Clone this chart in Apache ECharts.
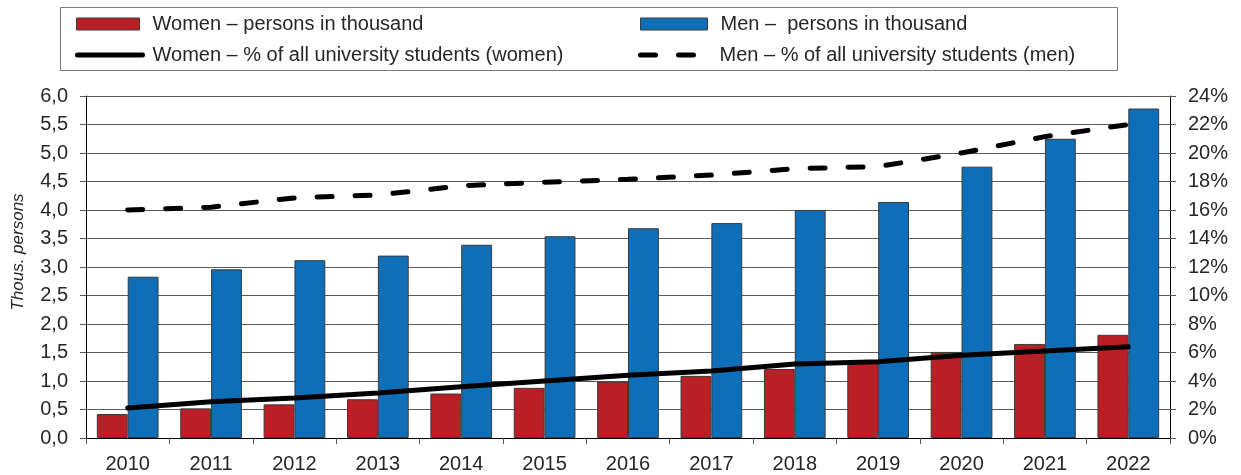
<!DOCTYPE html>
<html>
<head>
<meta charset="utf-8">
<script src="https://cdn.jsdelivr.net/npm/echarts@6/dist/echarts.min.js"></script>
<style>
  html, body { margin: 0; padding: 0; background: #fff; }
  #chart { width: 1241px; height: 475px; }
</style>
</head>
<body>
<div id="chart"></div>
<script>
// Years on the category axis
const years = ['2010', '2011', '2012', '2013', '2014', '2015', '2016', '2017', '2018', '2019', '2020', '2021', '2022'];
// Students, thousands of persons
const womenThousand = [0.42, 0.52, 0.59, 0.68, 0.78, 0.88, 0.99, 1.09, 1.21, 1.34, 1.51, 1.65, 1.81];
const menThousand = [2.83, 2.96, 3.12, 3.20, 3.39, 3.54, 3.68, 3.77, 4.00, 4.14, 4.76, 5.25, 5.78];
// Share of all university students of the same sex, percent
const womenShare = [2.1, 2.55, 2.8, 3.15, 3.6, 4.0, 4.4, 4.7, 5.2, 5.35, 5.8, 6.1, 6.4];
const menShare = [16.0, 16.2, 16.85, 17.05, 17.7, 17.95, 18.15, 18.45, 18.9, 19.05, 20.0, 21.15, 22.0];

const seriesNames = [
  'Women – persons in thousand',
  'Men –  persons in thousand',
  'Women – % of all university students (women)',
  'Men – % of all university students (men)'
];
const axisTitle = 'Thous. persons';

const FONT = 'Liberation Sans, Arial, sans-serif';
const TEXT = '#262626';
const MEN_DASH = [15, 23];

const chart = echarts.init(document.getElementById('chart'), null, { renderer: 'canvas' });

// One legend entry per block so each can sit at its own spot in the framed key
function barKey(name, left, top, w) {
  return {
    data: [{ name: name, icon: 'rect' }],
    left: left, top: top,
    itemWidth: w, itemHeight: 12,
    padding: 0,
    selectedMode: false,
    itemStyle: { borderColor: '#3a3a3a', borderWidth: 1 },
    textStyle: { fontFamily: FONT, fontSize: 20, color: TEXT, lineHeight: 22, padding: [0, 0, 0, 8] }
  };
}
function lineKey(name, left, top, w, dash) {
  return {
    data: [{
      name: name,
      itemStyle: { color: 'rgba(0,0,0,0)', borderColor: 'rgba(0,0,0,0)', borderWidth: 0, opacity: 0 }
    }],
    left: left, top: top,
    itemWidth: w, itemHeight: 12,
    padding: 0,
    selectedMode: false,
    lineStyle: { color: '#000', width: 5, type: dash, cap: 'round' },
    textStyle: { fontFamily: FONT, fontSize: 20, color: TEXT, lineHeight: 22, padding: [0, 0, 0, 5] }
  };
}

chart.setOption({
  animation: false,
  backgroundColor: '#fff',
  textStyle: { fontFamily: FONT },
  graphic: [{
    type: 'rect',
    shape: { x: 60.5, y: 7.5, width: 1057, height: 63 },
    style: { fill: 'none', stroke: '#7a7a7a', lineWidth: 1 },
    silent: true
  }, {
    type: 'text',
    x: 18, y: 252,
    rotation: Math.PI / 2,
    style: {
      text: axisTitle,
      fontFamily: FONT, fontSize: 17, fontStyle: 'italic', fill: TEXT,
      align: 'center', verticalAlign: 'middle'
    },
    silent: true
  }],
  legend: [
    barKey(seriesNames[0], 76, 13, 63),
    lineKey(seriesNames[2], 75, 44, 65, 'solid'),
    barKey(seriesNames[1], 640, 13, 67),
    lineKey(seriesNames[3], 638, 44, 69, MEN_DASH)
  ],
  grid: { left: 86, right: 71, top: 96, bottom: 37, containLabel: false },
  xAxis: {
    type: 'category',
    data: years,
    axisLine: { lineStyle: { color: '#000', width: 1 } },
    axisTick: { show: true, length: 6, lineStyle: { color: '#555' } },
    axisLabel: { fontFamily: FONT, fontSize: 20, color: TEXT, margin: 16 }
  },
  yAxis: [{
    type: 'value',
    min: 0, max: 6, interval: 0.5,
    axisLine: { show: true, lineStyle: { color: '#000', width: 1 } },
    axisTick: { show: true, length: 6, inside: false, lineStyle: { color: '#555' } },
    axisLabel: {
      fontFamily: FONT, fontSize: 20, color: TEXT, margin: 18,
      formatter: v => v.toFixed(1).replace('.', ',')
    },
    splitLine: { show: true, lineStyle: { color: '#5a5a5a', width: 1 } }
  }, {
    type: 'value',
    min: 0, max: 24, interval: 2,
    position: 'right',
    axisLine: { show: true, lineStyle: { color: '#000', width: 1 } },
    axisTick: { show: true, length: 6, lineStyle: { color: '#555' } },
    axisLabel: { fontFamily: FONT, fontSize: 20, color: TEXT, margin: 18, formatter: '{value}%' },
    splitLine: { show: false }
  }],
  series: [{
    name: seriesNames[0],
    type: 'bar',
    data: womenThousand,
    barGap: '0%',
    barCategoryGap: '26%',
    itemStyle: { color: '#BA1F26', borderColor: '#3a3a3a', borderWidth: 1 },
    z: 2
  }, {
    name: seriesNames[1],
    type: 'bar',
    data: menThousand,
    barGap: '0%',
    barCategoryGap: '26%',
    itemStyle: { color: '#0E6FB8', borderColor: '#3a3a3a', borderWidth: 1 },
    z: 2
  }, {
    name: seriesNames[2],
    type: 'line',
    yAxisIndex: 1,
    data: womenShare,
    symbol: 'none',
    lineStyle: { color: '#000', width: 5, cap: 'round' },
    itemStyle: { color: '#000' },
    z: 5
  }, {
    name: seriesNames[3],
    type: 'line',
    yAxisIndex: 1,
    data: menShare,
    symbol: 'none',
    lineStyle: { color: '#000', width: 5, type: MEN_DASH, cap: 'round' },
    itemStyle: { color: '#000' },
    z: 5
  }]
});
</script>
</body>
</html>
